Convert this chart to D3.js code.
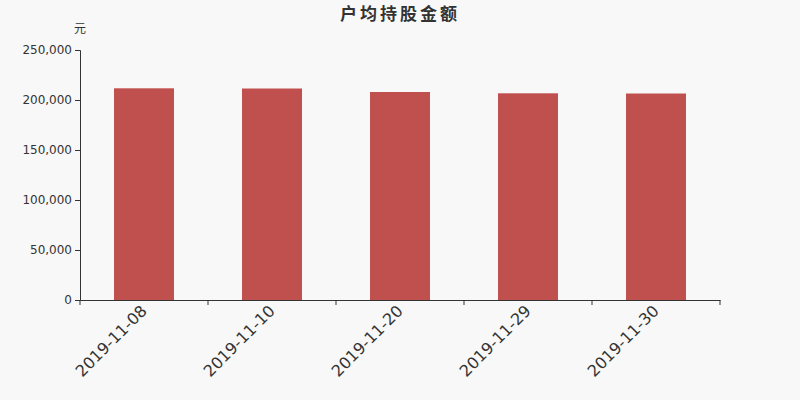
<!DOCTYPE html>
<html>
<head>
<meta charset="utf-8">
<script src="https://cdn.jsdelivr.net/npm/d3@7"></script>
<style>
  body { margin: 0; background: #f8f8f8; }
  svg { display: block; }
  svg text { font-family: "DejaVu Sans", sans-serif; }
</style>
</head>
<body>
<svg id="chart"></svg>
<script>
const dates = ['2019-11-08', '2019-11-10', '2019-11-20', '2019-11-29', '2019-11-30'];
const amounts = [211700, 211500, 208000, 206700, 206500];
const yTicks = [0, 50000, 100000, 150000, 200000, 250000];

const W = 800, H = 400;
const margin = { top: 50, right: 80, bottom: 100, left: 80 };
const svg = d3.select('#chart').attr('width', W).attr('height', H);
svg.append('rect').attr('width', W).attr('height', H).attr('fill', '#f8f8f8');

const xb = d3.scaleBand().domain(dates).range([margin.left, W - margin.right]);
const y = d3.scaleLinear().domain([0, 250000]).range([H - margin.bottom, margin.top]);
const barW = 60;

// bars
svg.selectAll('.bar')
  .data(amounts)
  .enter().append('rect')
  .attr('x', (d, i) => xb(dates[i]) + (xb.bandwidth() - barW) / 2)
  .attr('width', barW)
  .attr('y', d => y(d))
  .attr('height', d => y(0) - y(d))
  .attr('fill', '#c0504e');

// y axis
const yAxis = svg.append('g')
  .attr('transform', `translate(${margin.left},0)`)
  .call(d3.axisLeft(y).tickValues(yTicks).tickFormat(d3.format(',')).tickSizeOuter(0).tickSize(5));
yAxis.select('.domain').attr('stroke', '#333');
yAxis.selectAll('line').attr('stroke', '#333');
yAxis.selectAll('text').attr('fill', '#333').style('font-size', '12px').attr('x', -8);

// x axis
const xAxis = svg.append('g')
  .attr('transform', `translate(0,${H - margin.bottom})`)
  .call(d3.axisBottom(xb).tickSize(0).tickSizeOuter(0));
xAxis.select('.domain').attr('stroke', '#333');
xAxis.selectAll('.tick text')
  .attr('fill', '#333')
  .style('font-size', '16px')
  .attr('text-anchor', 'end')
  .attr('transform', 'translate(0,8) rotate(-45)')
  .attr('dy', '0.35em')
  .attr('y', 0);
// boundary ticks
const edges = dates.map(d => xb(d)).concat([xb(dates[dates.length - 1]) + xb.bandwidth()]);
svg.append('g').selectAll('line')
  .data(edges)
  .enter().append('line')
  .attr('x1', d => d).attr('x2', d => d)
  .attr('y1', H - margin.bottom).attr('y2', H - margin.bottom + 5)
  .attr('stroke', '#333');

// title
svg.append('text')
  .attr('x', W / 2).attr('y', 20)
  .attr('text-anchor', 'middle')
  .attr('fill', '#333')
  .style('font-size', '17px')
  .style('letter-spacing', '3px')
  .style('font-weight', 'bold')
  .style('font-family', '"Noto Sans CJK SC", sans-serif')
  .text('户均持股金额');

svg.append('text')
  .attr('x', 80).attr('y', 33)
  .attr('text-anchor', 'middle')
  .attr('fill', '#333')
  .style('font-size', '12px')
  .style('font-family', '"Noto Sans CJK SC", sans-serif')
  .text('元');
</script>
</body>
</html>
